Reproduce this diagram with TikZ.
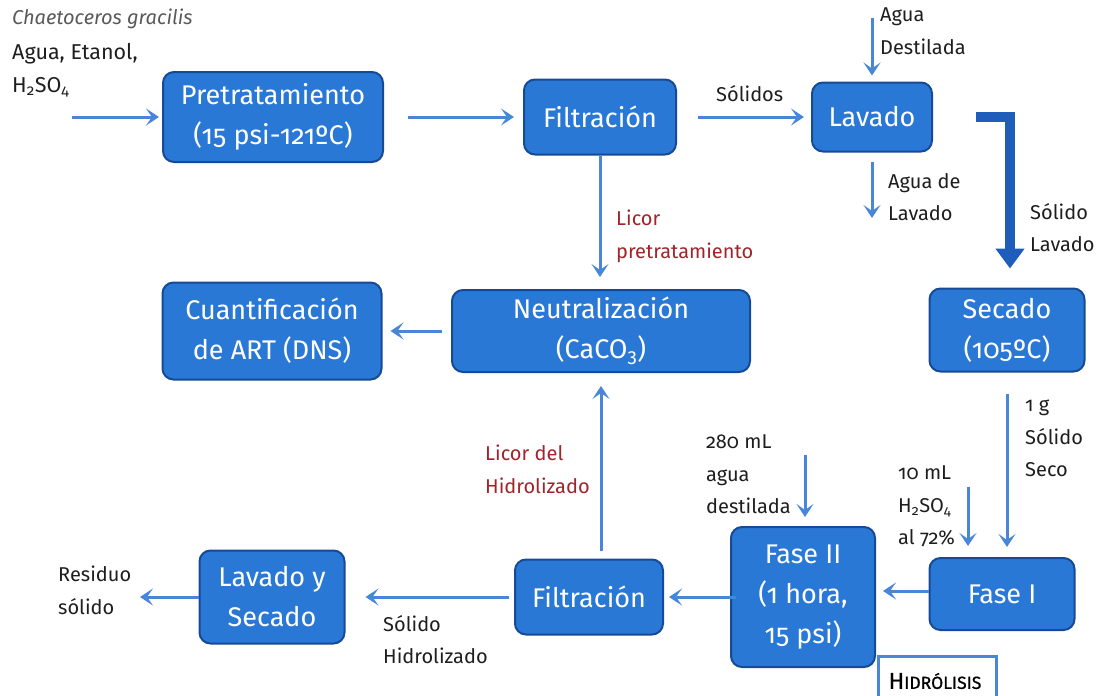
\documentclass[tikz,border=0pt]{standalone}
\usepackage{fontspec}
\setmainfont{Fira Sans}[Numbers=OldStyle]
\usetikzlibrary{arrows.meta}
\definecolor{boxblue}{RGB}{42,120,214}
\definecolor{boxline}{RGB}{22,74,150}
\definecolor{arrblue}{RGB}{74,134,216}
\definecolor{thickblue}{RGB}{30,94,186}
\definecolor{licor}{RGB}{160,36,42}
\definecolor{lbl}{RGB}{30,30,30}
\tikzset{
  box/.style={draw=boxline, line width=2pt, fill=boxblue, rounded corners=11pt,
    text=white, align=center, inner sep=0pt,
    font=\fontsize{27}{40}\selectfont},
  arr/.style={draw=arrblue, line width=3pt,
    -{Stealth[length=13pt,width=17pt,inset=6pt]}},
  bigarr/.style={draw=thickblue, line width=10pt, line join=miter,
    -{Triangle[length=20pt,width=28pt]}},
  lab/.style={text=lbl, align=left, anchor=north west, inner sep=0pt,
    font=\fontsize{20}{32.5}\selectfont},
  redlab/.style={lab, text=licor},
}
\begin{document}
\begin{tikzpicture}[x=1pt,y=-1pt]
\useasboundingbox (0,0) rectangle (1106,696);

% Hidrolisis box (behind Fase II)
\node[draw=arrblue, line width=2.5pt, fill=white, minimum width=118pt, minimum height=50pt,
  anchor=north west, inner sep=0pt] (hid) at (877,655) {};
\node[text=black, font=\fontsize{23}{24}\selectfont\addfontfeature{FakeBold=0.8}, inner sep=0pt] (hidt) at (935,681) {H\fontsize{17.5}{20}\selectfont IDRÓLISIS};

% boxes
\node[box, minimum width=220pt, minimum height=90pt] (pre) at (273,117) {Pretratamiento\\(15 psi-121ºC)};
\node[box, minimum width=152pt, minimum height=75pt] (filt1) at (600,117) {Filtración};
\node[box, minimum width=120pt, minimum height=69pt] (lav) at (872,117) {Lavado};
\node[box, minimum width=155pt, minimum height=83pt] (sec) at (1007,330) {Secado\\(105ºC)};
\node[box, minimum width=298pt, minimum height=82pt] (neut) at (601,331) {Neutralización\\(CaCO\textsubscript{3})};
\node[box, minimum width=219pt, minimum height=97pt] (cuan) at (272,331) {Cuantificación\\de ART (DNS)};
\node[box, minimum width=145pt, minimum height=72pt] (fase1) at (1002,594) {Fase I};
\node[box, minimum width=144pt, minimum height=140pt] (fase2) at (803,597) {Fase II\\(1 hora,\\15 psi)};
\node[box, minimum width=148pt, minimum height=75pt] (filt2) at (589,597) {Filtración};
\node[box, minimum width=145pt, minimum height=93pt] (lys) at (272,597) {Lavado y\\Secado};

% free ends
\coordinate (in0) at (72,117);
\coordinate (aguaD) at (872,18);
\coordinate (aguaL) at (872,218);
\coordinate (acid) at (968,487);
\coordinate (water) at (805,455);
\coordinate (resid) at (140,597);

% connectors
\draw[arr, shorten >=3pt] (in0) -- (pre.west);
\draw[arr, shorten <=24pt, shorten >=9pt] (pre.east) -- (filt1.west);
\draw[arr, shorten <=21pt, shorten >=7pt] (filt1.east) -- (lav.west);
\draw[arr, shorten >=6pt] (aguaD) -- (lav.north);
\draw[arr, shorten <=9pt] (lav.south) -- (aguaL);
\draw[bigarr, shorten <=43pt, shorten >=19pt] (lav.east) -| ([xshift=3pt]sec.north);
\draw[arr, shorten >=12pt] (filt1.south) -- (filt1.south |- neut.north);
\draw[arr, shorten <=9pt, shorten >=8pt] (neut.west) -- (cuan.east);
\draw[arr, shorten <=21pt, shorten >=10pt] (sec.south) -- (sec.south |- fase1.north);
\draw[arr, shorten >=11pt] (acid) -- (acid |- fase1.north);
\draw[arr, shorten >=9pt] (water) -- (water |- fase2.north);
\draw[arr, shorten >=7pt] ([yshift=3pt]fase1.west) -- ([yshift=3pt]fase1.west -| fase2.east);
\draw[arr, shorten <=-6pt, shorten >=5pt] (fase2.west) -- (filt2.east);
\draw[arr, shorten <=8pt, shorten >=13pt] (neut.south |- filt2.north) -- (neut.south);
\draw[arr, shorten <=5pt, shorten >=20pt] (filt2.west) -- (lys.east);
\draw[arr] (lys.west) -- (resid);

% labels
\node[lab, text=black!65, font=\fontsize{20}{32}\itshape\selectfont] (chae) at (12,9) {Chaetoceros gracilis};
\node[lab, font=\fontsize{21.5}{33}\selectfont] (inl) at (12,43) {Agua, Etanol,\\H\textsubscript{2}SO\textsubscript{4}};
\node[lab] (sol) at (716,85) {Sólidos};
\node[lab] (agd) at (880,8) {Agua\\Destilada};
\node[lab] (agl) at (888,173) {Agua de\\Lavado};
\node[lab] (sll) at (1030,203) {Sólido\\Lavado};
\node[redlab] (lp) at (616,210) {Licor\\pretratamiento};
\node[lab] (sss) at (1025,400) {1 g\\Sólido\\Seco};
\node[lab] (acl) at (898,466) {10 mL\\H\textsubscript{2}SO\textsubscript{4}\\al 72\%};
\node[lab] (wl) at (706,435) {280 mL\\agua\\destilada};
\node[redlab] (lh) at (485,445) {Licor del\\Hidrolizado};
\node[lab] (shl) at (383,615) {Sólido\\Hidrolizado};
\node[lab] (rsl) at (58,566) {Residuo\\sólido};
\end{tikzpicture}
\end{document}
